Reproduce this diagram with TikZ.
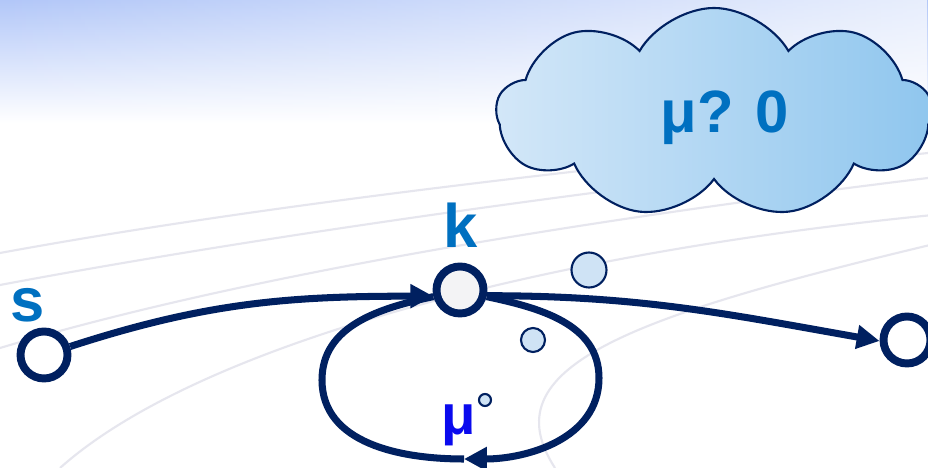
\documentclass[tikz,border=0pt]{standalone}
\usepackage{fontspec}
\setmainfont{Liberation Sans}
\usepackage{tikz}
\usetikzlibrary{arrows.meta,positioning,shapes.symbols,fadings}
\usepackage{xcolor}
\definecolor{graphnavy}{HTML}{002060}
\definecolor{labelblue}{HTML}{0070C0}
\definecolor{mublue}{HTML}{0A0AEE}
\definecolor{cloudleft}{HTML}{D3E7F8}
\definecolor{cloudright}{HTML}{8FC6EE}
\definecolor{bubblefill}{HTML}{CFE3F5}
\definecolor{skytop}{HTML}{B2C7F8}
\definecolor{swoosh}{HTML}{E6E6EE}
\definecolor{nodegray}{HTML}{F3F3F5}

\begin{document}
\begin{tikzpicture}[
  state/.style={circle, draw=graphnavy, line width=4.5pt, fill=white,
                minimum size=0.94cm, inner sep=0pt},
  lbl/.style={font=\fontsize{35}{40}\selectfont\bfseries, text=labelblue, inner sep=0pt},
  bubble/.style={circle, draw=graphnavy, line width=1.2pt, fill=bubblefill, inner sep=0pt},
  line/.style={line width=4pt, draw=graphnavy},
  arr/.style={line, -{Triangle[length=13pt, width=13pt]}},
  bgline/.style={draw=swoosh, line width=1.2pt}
]
\useasboundingbox (0,0) rectangle (18.56,9.36);
% background
\fill[white] (0,0) rectangle (18.56,9.36);
\shade[top color=skytop, bottom color=white] (0,6.9) rectangle (18.56,9.36);
\fill[white, path fading=west, opacity=0.7] (0,6.8) rectangle (18.56,9.37);
\draw[bgline] (0,3.66) .. controls (5,4.6) and (12,5.6) .. (18.56,6.3);
\draw[bgline] (0,2.40) .. controls (5,3.9) and (12,5.0) .. (18.56,5.8);
\draw[bgline] (1.2,0) .. controls (4,2.5) and (11,4.3) .. (18.56,5.05);
\draw[bgline] (11.1,0) .. controls (9.8,2.0) and (12.5,3.0) .. (18.56,4.45);
\draw[bgline] (0,4.3) .. controls (6,5.4) and (13,6.1) .. (18.56,6.7);

\node[state] (s) at (0.88,2.26) {};
\node[state, fill=nodegray] (k) at (9.2,3.56) {};
\node[state] (t) at (18.14,2.56) {};
\node[lbl] (slabel) at (0.56,3.26) {s};
\node[lbl] (klabel) at (9.22,4.86) {k};
\node[font=\fontsize{32}{36}\selectfont\bfseries, text=mublue, inner sep=0pt] (mu) at (9.18,0.86) {μ};

\node[cloud, cloud puffs=9, cloud puff arc=120, aspect=2.1, draw=graphnavy,
      line width=1.2pt, left color=cloudleft, right color=cloudright,
      minimum width=8.7cm, minimum height=4.2cm, inner sep=0pt] (thought) at (14.28,7.1) {};
\node[font=\fontsize{34}{38}\selectfont\bfseries, text=labelblue, inner sep=0pt]
  (thoughttext) at (14.5,7.0) {μ? 0};
\node[bubble, minimum size=0.70cm] (b1) at (11.78,3.96) {};
\node[bubble, minimum size=0.48cm] (b2) at (10.66,2.56) {};
\node[bubble, minimum size=0.24cm] (b3) at (9.70,1.36) {};

\coordinate (loopR) at (11.98,1.80);
\coordinate (loopB) at (9.28,0.18);
\coordinate (loopL) at (6.44,1.76);

\draw[arr] (s) to[out=18, in=180] (k.193);
\draw[arr] (k.-12) to[out=0, in=170] (t.182);
\draw[arr] (k.-14) to[out=-12, in=90] (loopR) to[out=-90, in=0] (loopB);
\draw[line] (loopB) to[out=180, in=-90] (loopL) to[out=90, in=192] (k.194);
\end{tikzpicture}
\end{document}
